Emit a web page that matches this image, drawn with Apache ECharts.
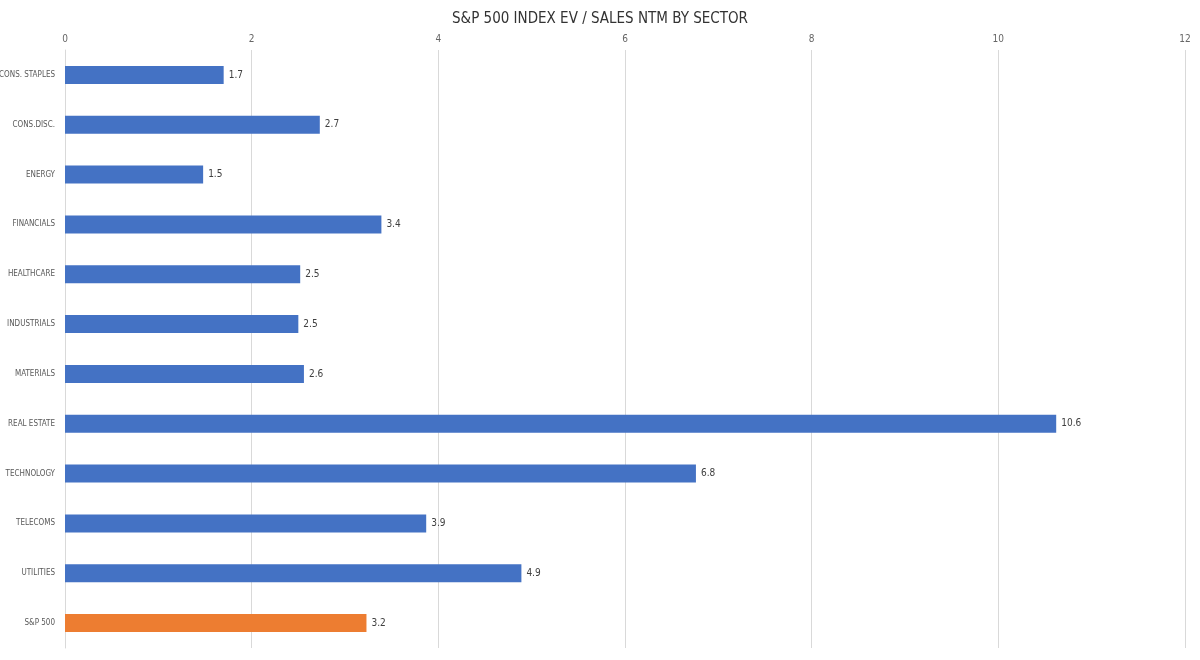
<!DOCTYPE html>
<html>
<head>
<meta charset="utf-8">
<script src="https://cdn.jsdelivr.net/npm/echarts@6/dist/echarts.min.js"></script>
<style>
html,body{margin:0;padding:0;background:#fff;}
#chart{width:1200px;height:660px;}
</style>
</head>
<body>
<div id="chart"></div>
<script>
const categories = ["CONS. STAPLES","CONS.DISC.","ENERGY","FINANCIALS","HEALTHCARE","INDUSTRIALS","MATERIALS","REAL ESTATE","TECHNOLOGY","TELECOMS","UTILITIES","S&P 500"];
const values = [1.70, 2.73, 1.48, 3.39, 2.52, 2.50, 2.56, 10.62, 6.76, 3.87, 4.89, 3.23];
const highlight = "S&P 500";
const xTicks = [0, 2, 4, 6, 8, 10, 12];

const condensed = '"DejaVu Sans Condensed","Roboto",sans-serif';
const chart = echarts.init(document.getElementById('chart'));
chart.setOption({
  animation: false,
  title: {
    text: 'S&P 500 INDEX EV / SALES NTM BY SECTOR',
    left: 'center', top: 7,
    textStyle: {fontFamily: condensed, fontSize: 15, fontWeight: 'normal', color: '#333'}
  },
  grid: {left: 65, right: 15, top: 50, bottom: 12, containLabel: false, outerBoundsMode: 'none'},
  xAxis: {
    type: 'value', position: 'top', min: xTicks[0], max: xTicks[xTicks.length-1], interval: 2,
    axisLine: {show: false}, axisTick: {show: false},
    axisLabel: {fontFamily: condensed, fontSize: 10, color: '#666', margin: 6},
    splitLine: {lineStyle: {color: '#d9d9d9', width: 1}}
  },
  yAxis: {
    type: 'category', data: categories, inverse: true,
    axisLine: {show: true, lineStyle: {color: '#d9d9d9'}}, axisTick: {show: false},
    axisLabel: {fontFamily: condensed, fontSize: 8, color: '#595959', margin: 10}
  },
  series: [{
    type: 'bar',
    barWidth: 18,
    data: values.map((v, i) => ({
      value: v,
      itemStyle: {color: categories[i] === highlight ? '#ED7D31' : '#4472C4'}
    })),
    label: {
      show: true, position: 'right', distance: 5,
      fontFamily: condensed, fontSize: 10, color: '#404040',
      formatter: p => p.value.toFixed(1)
    }
  }]
});
</script>
</body>
</html>
